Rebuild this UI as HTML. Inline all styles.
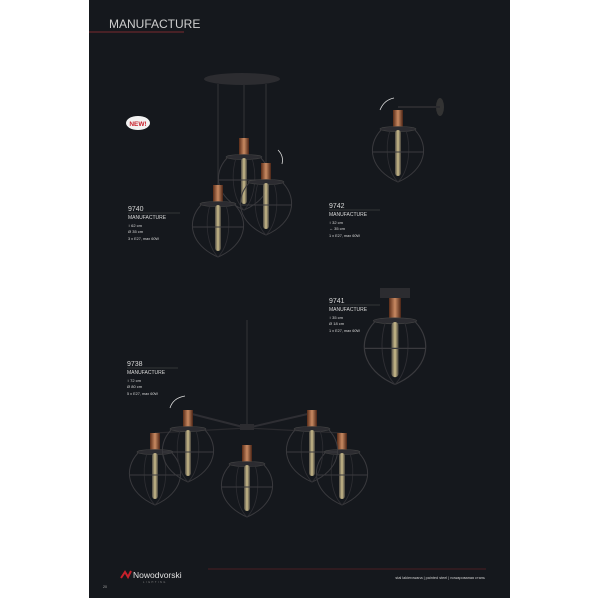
<!DOCTYPE html>
<html><head><meta charset="utf-8"><style>
html,body{margin:0;padding:0;background:#fff;width:600px;height:600px;overflow:hidden}
svg{display:block}
text{font-family:"Liberation Sans",sans-serif}
</style></head><body>
<svg width="600" height="600" viewBox="0 0 600 600" xmlns="http://www.w3.org/2000/svg">
<defs>
<linearGradient id="cu" x1="0" x2="1"><stop offset="0" stop-color="#5a2c18"/><stop offset=".5" stop-color="#c98a62"/><stop offset="1" stop-color="#4a2415"/></linearGradient>
<linearGradient id="bl" x1="0" x2="1"><stop offset="0" stop-color="#555048"/><stop offset=".5" stop-color="#e0cf98"/><stop offset="1" stop-color="#4a463f"/></linearGradient>
<g id="lamp">
<rect x="-5" y="0" width="10" height="17" fill="url(#cu)"/>
<ellipse cx="0" cy="19" rx="18" ry="2.5" fill="#2b2b30" stroke="#444" stroke-width=".6"/>
<rect x="-3" y="20" width="6" height="46" rx="3" fill="url(#bl)" opacity=".9"/>
<path d="M-17,20 C-32,36 -28,60 0,72 C28,60 32,36 17,20" fill="none" stroke="#3a3a3e" stroke-width="1"/>
<path d="M-8,20 C-14,40 -10,62 0,72 C10,62 14,40 8,20" fill="none" stroke="#2e2e33" stroke-width=".8"/>
<line x1="-25" y1="42" x2="25" y2="42" stroke="#3a3a3e" stroke-width="1"/>
</g>
</defs>
<rect x="89" y="0" width="421" height="598" fill="#15181d"/>
<text x="109" y="28" font-size="12" fill="#cfcfcf">MANUFACTURE</text>
<line x1="89" y1="32" x2="184" y2="32" stroke="#7a2a30" stroke-width="1"/>
<ellipse cx="138" cy="123" rx="12" ry="7" fill="#f2f2f2"/>
<text x="138" y="126" font-size="6.5" font-weight="bold" fill="#c8202b" text-anchor="middle">NEW!</text>

<!-- 9740 -->
<ellipse cx="242" cy="79" rx="38" ry="6" fill="#2c2c30"/>
<line x1="218" y1="84" x2="218" y2="186" stroke="#2a2a2e" stroke-width="1.5"/>
<line x1="244" y1="84" x2="244" y2="140" stroke="#2a2a2e" stroke-width="1.5"/>
<line x1="266" y1="84" x2="266" y2="165" stroke="#2a2a2e" stroke-width="1.5"/>
<use href="#lamp" x="244" y="138"/>
<use href="#lamp" x="266" y="163"/>
<use href="#lamp" x="218" y="185"/>
<path d="M278,150 q6,6 4,14" fill="none" stroke="#ddd" stroke-width=".8"/>

<!-- 9742 -->
<ellipse cx="440" cy="107" rx="4" ry="9" fill="#333"/>
<line x1="398" y1="107" x2="440" y2="107" stroke="#2a2a2e" stroke-width="2"/>
<use href="#lamp" x="398" y="110"/>
<path d="M380,110 q4,-10 14,-12" fill="none" stroke="#ddd" stroke-width=".8"/>

<!-- 9741 -->
<rect x="380" y="288" width="30" height="10" fill="#2c2c30"/>
<g transform="translate(395 298) scale(1.2)">
<use href="#lamp" x="0" y="0"/>
</g>

<!-- 9738 -->
<line x1="247" y1="320" x2="247" y2="428" stroke="#2a2a2e" stroke-width="1.5"/>
<line x1="188" y1="413" x2="247" y2="428" stroke="#2e2e33" stroke-width="2"/>
<line x1="312" y1="413" x2="247" y2="428" stroke="#2e2e33" stroke-width="2"/>
<line x1="155" y1="433" x2="247" y2="428" stroke="#2a2a2e" stroke-width="1.2"/>
<line x1="342" y1="433" x2="247" y2="428" stroke="#2a2a2e" stroke-width="1.2"/>
<rect x="240" y="424" width="14" height="6" fill="#2c2c30"/>
<use href="#lamp" x="155" y="433"/>
<use href="#lamp" x="342" y="433"/>
<use href="#lamp" x="247" y="445"/>
<use href="#lamp" x="188" y="410"/>
<use href="#lamp" x="312" y="410"/>
<path d="M170,408 q3,-10 15,-12" fill="none" stroke="#ddd" stroke-width=".8"/>

<!-- labels -->
<g fill="#d8d8d8">
<text x="128" y="211" font-size="7">9740</text>
<text x="128" y="219" font-size="5">MANUFACTURE</text>
<text x="128" y="227" font-size="4">↕  62 cm</text>
<text x="128" y="233" font-size="4">Ø  35 cm</text>
<text x="128" y="240" font-size="3.8">3 x E27, max 60W</text>
<text x="329" y="208" font-size="7">9742</text>
<text x="329" y="216" font-size="5">MANUFACTURE</text>
<text x="329" y="224" font-size="4">↕  32 cm</text>
<text x="329" y="230" font-size="4">↔  35 cm</text>
<text x="329" y="237" font-size="3.8">1 x E27, max 60W</text>
<text x="329" y="303" font-size="7">9741</text>
<text x="329" y="311" font-size="5">MANUFACTURE</text>
<text x="329" y="319" font-size="4">↕  35 cm</text>
<text x="329" y="325" font-size="4">Ø  18 cm</text>
<text x="329" y="332" font-size="3.8">1 x E27, max 60W</text>
<text x="127" y="366" font-size="7">9738</text>
<text x="127" y="374" font-size="5">MANUFACTURE</text>
<text x="127" y="382" font-size="4">↕  72 cm</text>
<text x="127" y="388" font-size="4">Ø  80 cm</text>
<text x="127" y="395" font-size="3.8">5 x E27, max 60W</text>
</g>
<g stroke="#555" stroke-width=".5">
<line x1="128" y1="213" x2="180" y2="213"/><line x1="329" y1="210" x2="380" y2="210"/>
<line x1="329" y1="305" x2="380" y2="305"/><line x1="127" y1="368" x2="178" y2="368"/>
</g>

<!-- footer -->
<path d="M121,578 l4,-6 l3,5 l3,-6" fill="none" stroke="#c8202b" stroke-width="2"/>
<text x="133" y="578" font-size="8.5" fill="#e0e0e0">Nowodvorski</text>
<text x="143" y="583" font-size="2.5" fill="#888" letter-spacing="1.5">LIGHTING</text>
<line x1="208" y1="569" x2="486" y2="569" stroke="#4a1e24" stroke-width="1"/>
<text x="485" y="579" font-size="3.8" fill="#cfcfcf" text-anchor="end">stal lakierowana  |  painted steel  |  nowapовaнaя cтaль</text>
<text x="103" y="588" font-size="3.5" fill="#aaa">20</text>
</svg>
</body></html>
